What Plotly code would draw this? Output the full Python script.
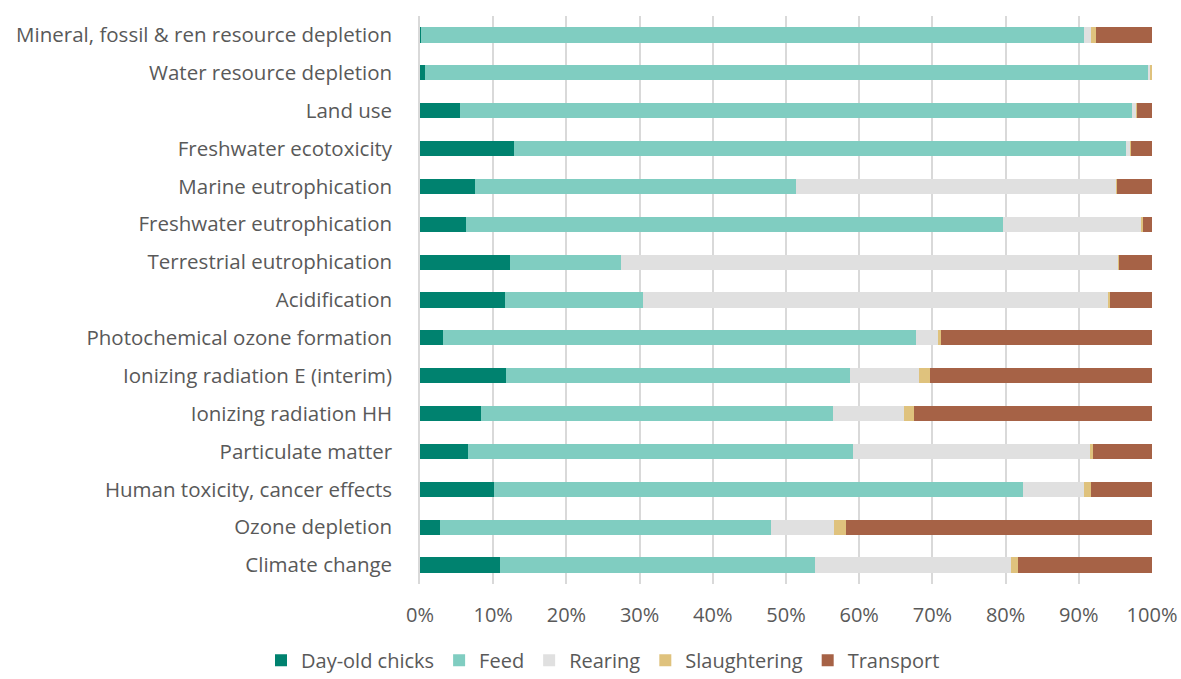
import plotly.graph_objects as go

categories = [
    "Mineral, fossil & ren resource depletion",
    "Water resource depletion",
    "Land use",
    "Freshwater ecotoxicity",
    "Marine eutrophication",
    "Freshwater eutrophication",
    "Terrestrial eutrophication",
    "Acidification",
    "Photochemical ozone formation",
    "Ionizing radiation E (interim)",
    "Ionizing radiation HH",
    "Particulate matter",
    "Human toxicity, cancer effects",
    "Ozone depletion",
    "Climate change",
]

day_old_chicks = [0.1, 0.7, 5.5, 12.8, 7.5, 6.3, 12.3, 11.6, 3.2, 11.7, 8.4, 6.6, 10.1, 2.7, 10.9]
feed =           [90.6, 98.7, 91.7, 83.7, 43.8, 73.3, 15.2, 18.9, 64.6, 47.1, 48.0, 52.6, 72.3, 45.3, 43.0]
rearing =        [1.0, 0.4, 0.7, 0.6, 43.8, 19.0, 67.9, 63.6, 2.9, 9.4, 9.7, 32.3, 8.3, 8.6, 26.8]
slaughtering =   [0.6, 0.2, 0.05, 0.05, 0.1, 0.2, 0.1, 0.2, 0.5, 1.5, 1.4, 0.4, 0.9, 1.6, 1.0]
transport =      [7.7, 0.0, 2.1, 2.9, 4.8, 1.2, 4.5, 5.7, 28.8, 30.3, 32.5, 8.1, 8.4, 41.8, 18.3]

series = [
    ("Day-old chicks", day_old_chicks, "#00826F"),
    ("Feed", feed, "#80CDC1"),
    ("Rearing", rearing, "#E0E0E0"),
    ("Slaughtering", slaughtering, "#DFC27D"),
    ("Transport", transport, "#A66246"),
]

tick_vals = [0, 10, 20, 30, 40, 50, 60, 70, 80, 90, 100]
tick_text = [f"{v}%" for v in tick_vals]

fig = go.Figure()
for name, vals, color in series:
    fig.add_trace(go.Bar(
        y=categories, x=vals, name=name, orientation="h",
        marker=dict(color=color, line=dict(width=0)),
    ))

font_family = "'Open Sans', sans-serif"
fig.update_layout(
    barmode="stack",
    bargap=0.6,
    width=1181, height=679,
    margin=dict(l=420, r=29, t=16, b=95, autoexpand=False),
    plot_bgcolor="white", paper_bgcolor="white",
    font=dict(family=font_family, size=20, color="#595959"),
    xaxis=dict(
        range=[0, 100], tickvals=tick_vals, ticktext=tick_text,
        showgrid=True, gridcolor="#D9D9D9", gridwidth=1.5,
        zeroline=False, showline=False, ticks="", ticklabelstandoff=17,
        tickfont=dict(size=20, color="#595959"), automargin=False,
    ),
    yaxis=dict(
        categoryorder="array", categoryarray=categories[::-1],
        autorange=False, range=[-0.5, len(categories) - 0.5],
        showgrid=False, ticks="", ticklabelstandoff=22,
        tickfont=dict(size=20.5, color="#595959"), automargin=False,
        showline=True, linecolor="#D9D9D9", linewidth=1.5,
    ),
    legend=dict(
        orientation="h", x=0.25, xanchor="center", y=-0.1, yanchor="top",
        font=dict(size=20, color="#595959"), traceorder="normal",
        itemwidth=30,
    ),
)

fig.write_html("out.html")
